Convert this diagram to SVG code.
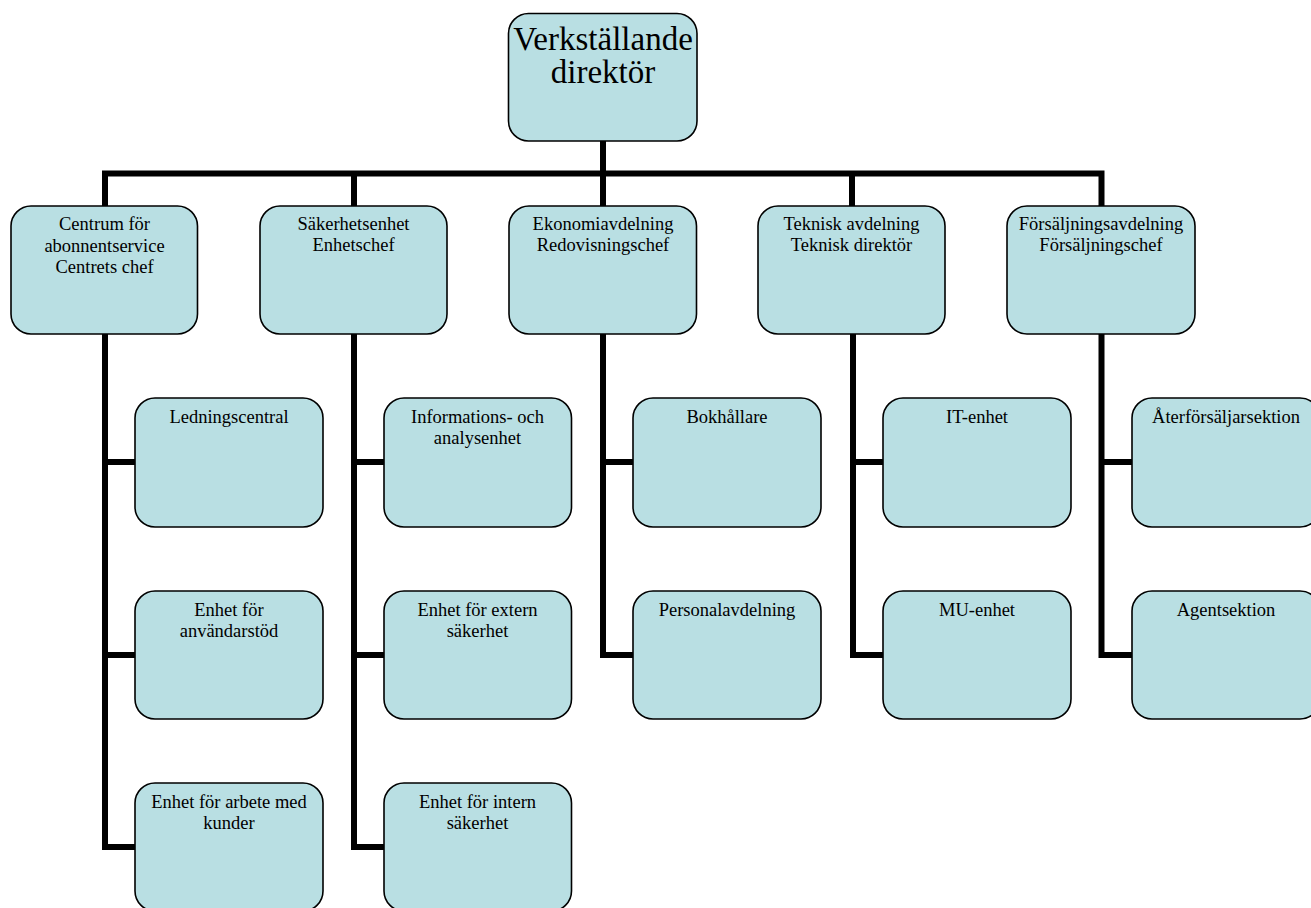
<svg xmlns="http://www.w3.org/2000/svg" width="1311" height="908" viewBox="0 0 1311 908">
<style>
.box{fill:#B9DFE3;stroke:#000;stroke-width:1.6}
.t{font-family:"Liberation Serif","Times New Roman",serif;font-size:18.5px;fill:#000;text-anchor:middle}
.big{font-size:33px}
.c{fill:none;stroke:#000;stroke-width:6;stroke-linejoin:miter}
</style>
<rect width="1311" height="908" fill="#fff"/>
<g id="connectors">
<line class="c" x1="603" y1="141" x2="603" y2="206"/>
<path class="c" d="M105,206 V173.5 H1101.5 V206"/>
<line class="c" x1="354" y1="173.5" x2="354" y2="206"/>
<line class="c" x1="852" y1="173.5" x2="852" y2="206"/>
<path class="c" d="M135,462 H105 V334 M105,655 H135 M135,847 H105 V462"/>
<path class="c" d="M384,462 H354 V334 M354,655 H384 M384,847 H354 V462"/>
<path class="c" d="M633,462 H603 V334 M633,655 H603 V462"/>
<path class="c" d="M883,462 H853 V334 M883,655 H853 V462"/>
<path class="c" d="M1132,462 H1101.5 V334 M1132,655 H1101.5 V462"/>
</g>
<g id="ceo"><rect class="box" x="508.5" y="13.5" width="188.5" height="127.5" rx="20"/><text class="t big" x="603" y="50">Verkställande</text><text class="t big" x="603" y="83">direktör</text></g>
<g id="n1"><rect class="box" x="11" y="206" width="186.5" height="128" rx="20"/><text class="t" x="104.5" y="230">Centrum för</text><text class="t" x="104.5" y="252">abonnentservice</text><text class="t" x="104.5" y="273">Centrets chef</text></g>
<g id="n2"><rect class="box" x="260" y="206" width="187" height="128" rx="20"/><text class="t" x="353.5" y="230">Säkerhetsenhet</text><text class="t" x="353.5" y="251">Enhetschef</text></g>
<g id="n3"><rect class="box" x="509" y="206" width="187.5" height="128" rx="20"/><text class="t" x="603" y="230">Ekonomiavdelning</text><text class="t" x="603" y="251">Redovisningschef</text></g>
<g id="n4"><rect class="box" x="758" y="206" width="187" height="128" rx="20"/><text class="t" x="851.5" y="230">Teknisk avdelning</text><text class="t" x="851.5" y="251">Teknisk direktör</text></g>
<g id="n5"><rect class="box" x="1007" y="206" width="188" height="128" rx="20"/><text class="t" x="1101" y="230">Försäljningsavdelning</text><text class="t" x="1101" y="251">Försäljningschef</text></g>
<g id="c11"><rect class="box" x="135" y="398" width="188" height="129" rx="20"/><text class="t" x="229" y="423">Ledningscentral</text></g>
<g id="c12"><rect class="box" x="135" y="591" width="188" height="128" rx="20"/><text class="t" x="229" y="616">Enhet för</text><text class="t" x="229" y="637">användarstöd</text></g>
<g id="c13"><rect class="box" x="135" y="783" width="188" height="128" rx="20"/><text class="t" x="229" y="808">Enhet för arbete med</text><text class="t" x="229" y="829">kunder</text></g>
<g id="c21"><rect class="box" x="384" y="398" width="187.5" height="129" rx="20"/><text class="t" x="477.5" y="423">Informations- och</text><text class="t" x="477.5" y="444">analysenhet</text></g>
<g id="c22"><rect class="box" x="384" y="591" width="187.5" height="128" rx="20"/><text class="t" x="477.5" y="616">Enhet för extern</text><text class="t" x="477.5" y="637">säkerhet</text></g>
<g id="c23"><rect class="box" x="384" y="783" width="187.5" height="128" rx="20"/><text class="t" x="477.5" y="808">Enhet för intern</text><text class="t" x="477.5" y="829">säkerhet</text></g>
<g id="c31"><rect class="box" x="633" y="398" width="188" height="129" rx="20"/><text class="t" x="727" y="423">Bokhållare</text></g>
<g id="c32"><rect class="box" x="633" y="591" width="188" height="128" rx="20"/><text class="t" x="727" y="616">Personalavdelning</text></g>
<g id="c41"><rect class="box" x="883" y="398" width="188" height="129" rx="20"/><text class="t" x="977" y="423">IT-enhet</text></g>
<g id="c42"><rect class="box" x="883" y="591" width="188" height="128" rx="20"/><text class="t" x="977" y="616">MU-enhet</text></g>
<g id="c51"><rect class="box" x="1132" y="398" width="188" height="129" rx="20"/><text class="t" x="1226" y="423">Återförsäljarsektion</text></g>
<g id="c52"><rect class="box" x="1132" y="591" width="188" height="128" rx="20"/><text class="t" x="1226" y="616">Agentsektion</text></g>
</svg>
